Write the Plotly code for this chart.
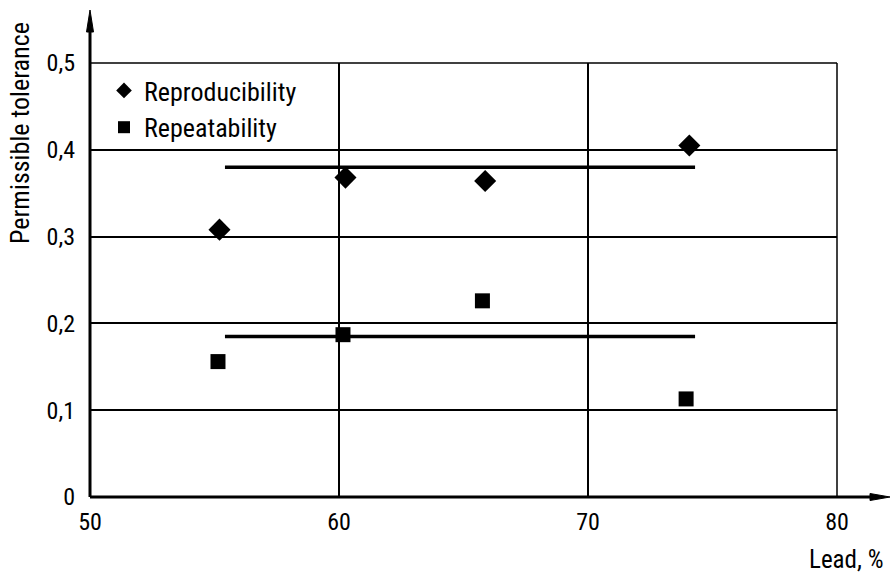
import plotly.graph_objects as go

# Data
repro_x = [55.2, 60.26, 65.87, 74.07]
repro_y = [0.308, 0.368, 0.364, 0.405]
repeat_x = [55.14, 60.16, 65.76, 73.94]
repeat_y = [0.156, 0.187, 0.226, 0.113]
line_x = [55.42, 74.30]
repro_mean = [0.380, 0.380]
repeat_mean = [0.185, 0.185]

x_ticks = [50, 60, 70, 80]
x_ticklabels = ["50", "60", "70", "80"]
y_ticks = [0, 0.1, 0.2, 0.3, 0.4, 0.5]
y_ticklabels = ["0", "0,1", "0,2", "0,3", "0,4", "0,5"]

FONT = "Roboto Condensed, sans-serif"

fig = go.Figure()
fig.add_trace(go.Scatter(x=line_x, y=repro_mean, mode="lines", showlegend=False,
                         line=dict(color="black", width=3.5), hoverinfo="skip"))
fig.add_trace(go.Scatter(x=line_x, y=repeat_mean, mode="lines", showlegend=False,
                         line=dict(color="black", width=3.5), hoverinfo="skip"))
fig.add_trace(go.Scatter(x=repro_x, y=repro_y, mode="markers", name="Reproducibility",
                         marker=dict(symbol="diamond", size=17, color="black")))
fig.add_trace(go.Scatter(x=repeat_x, y=repeat_y, mode="markers", name="Repeatability",
                         marker=dict(symbol="square", size=15, color="black")))

W, H = 896, 574
ml, mr, mt, mb = 90, 59, 63, 77
pw = W - ml - mr
ph = H - mt - mb

def px_x(p):
    return (p - ml) / pw

def px_y(p):
    return (H - mb - p) / ph

shapes = []
shapes.append(dict(type="line", xref="paper", yref="paper", x0=0, x1=1, y0=1, y1=1,
                   line=dict(color="black", width=1.5)))
shapes.append(dict(type="line", xref="paper", yref="paper", x0=1, x1=1, y0=0, y1=1,
                   line=dict(color="black", width=1.5)))
shapes.append(dict(type="line", xref="paper", yref="paper", x0=0, x1=px_x(874), y0=0, y1=0,
                   line=dict(color="black", width=3)))
shapes.append(dict(type="path", xref="paper", yref="paper",
                   path=f"M {px_x(870)} {px_y(493.5)} L {px_x(890)} {px_y(497)} L {px_x(870)} {px_y(500.5)} Z",
                   fillcolor="black", line=dict(color="black", width=1)))
shapes.append(dict(type="line", xref="paper", yref="paper", x0=0, x1=0, y0=0, y1=px_y(28),
                   line=dict(color="black", width=3)))
shapes.append(dict(type="path", xref="paper", yref="paper",
                   path=f"M {px_x(86.5)} {px_y(32)} L {px_x(90)} {px_y(10)} L {px_x(93.5)} {px_y(32)} Z",
                   fillcolor="black", line=dict(color="black", width=1)))

annotations = [
    dict(text="Permissible tolerance", xref="paper", yref="paper", x=px_x(20), y=px_y(133),
         showarrow=False, textangle=-90, xanchor="center", yanchor="middle",
         font=dict(family=FONT, size=26, color="black")),
    dict(text="Lead, %", xref="paper", yref="paper", x=px_x(885), y=px_y(559),
         showarrow=False, xanchor="right", yanchor="middle",
         font=dict(family=FONT, size=25, color="black")),
]

fig.update_layout(
    width=W, height=H,
    margin=dict(l=ml, r=mr, t=mt, b=mb),
    paper_bgcolor="white", plot_bgcolor="white",
    font=dict(family=FONT, size=24, color="black"),
    shapes=shapes, annotations=annotations,
    legend=dict(x=px_x(104), y=px_y(67), xanchor="left", yanchor="top",
                bgcolor="rgba(0,0,0,0)", font=dict(family=FONT, size=26, color="black"),
                itemsizing="constant", tracegroupgap=0, itemwidth=30),
    showlegend=True,
)
fig.update_xaxes(range=[50, 80], tickvals=x_ticks, ticktext=x_ticklabels,
                 showgrid=True, gridcolor="black", gridwidth=1.5, zeroline=False,
                 showline=False, ticks="", ticklabelstandoff=8,
                 tickfont=dict(family=FONT, size=24, color="black"))
fig.update_yaxes(range=[0, 0.5], tickvals=y_ticks, ticktext=y_ticklabels,
                 showgrid=True, gridcolor="black", gridwidth=1.5, zeroline=False,
                 showline=False, ticks="", ticklabelstandoff=14,
                 tickfont=dict(family=FONT, size=24, color="black"))

fig.write_html("out.html", post_script="document.body.style.margin='0px';",
               config={"displayModeBar": False})
